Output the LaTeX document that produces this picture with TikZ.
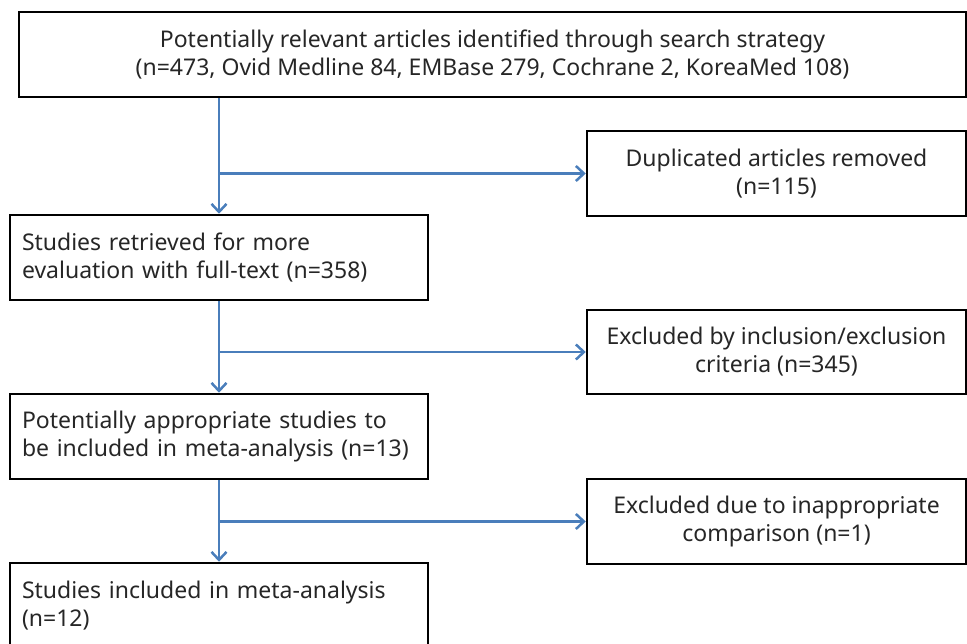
\documentclass[tikz,border=0pt]{standalone}
\usepackage{fontspec}
\setmainfont{Noto Sans}
\usetikzlibrary{arrows.meta}
\definecolor{arrowblue}{HTML}{4A7EBB}
\begin{document}
\begin{tikzpicture}[x=1pt,y=-1pt,
  box/.style={draw=black, line width=2.5pt, rectangle, inner sep=0pt,
    font=\fontsize{23}{28}\selectfont, text=black!85},
  cbox/.style={box, align=center},
  lbox/.style={box, align=left, text width=394pt, minimum width=418pt, minimum height=85pt},
  rbox/.style={cbox, minimum width=379pt, minimum height=85pt},
  flow/.style={draw=arrowblue, line width=2.5pt,
    -{Straight Barb[length=8pt,width=15pt,line width=2.5pt]}},
]
\useasboundingbox (0,0) rectangle (967,644);
\clip (0,0) rectangle (967,644);

\node[cbox, minimum width=947pt, minimum height=85pt] (top) at (492.5,54.5)
  {Potentially relevant articles identified through search strategy\\
   (n=473, Ovid Medline 84, EMBase 279, Cochrane 2, KoreaMed 108)};

\node[rbox] (r1) at (776.5,173.5) {Duplicated articles removed\\(n=115)};
\node[lbox] (b2) at (219,257.5)
  {\mbox{Studies retrieved for more}\\\mbox{evaluation with full-text (n=358)}};
\node[rbox, minimum height=84pt] (r2) at (776.5,352)
  {Excluded by inclusion/exclusion\\criteria (n=345)};
\node[lbox] (b3) at (219,436.5)
  {\mbox{Potentially appropriate studies to}\\\mbox{be included in meta-analysis (n=13)}};
\node[rbox] (r3) at (776.5,521.5)
  {Excluded due to inappropriate\\comparison (n=1)};
\node[lbox] (b4) at (219,605.5)
  {\mbox{Studies included in meta-analysis}\\\mbox{(n=12)}};

\draw[flow] (b2.north |- top.south) -- (b2.north);
\draw[flow] (b2.north |- r1.west) -- (r1.west);
\draw[flow] (b2.south) -- (b3.north);
\draw[flow] (b3.north |- r2.west) -- (r2.west);
\draw[flow] (b3.south) -- (b4.north);
\draw[flow] (b4.north |- r3.west) -- (r3.west);
\end{tikzpicture}
\end{document}
